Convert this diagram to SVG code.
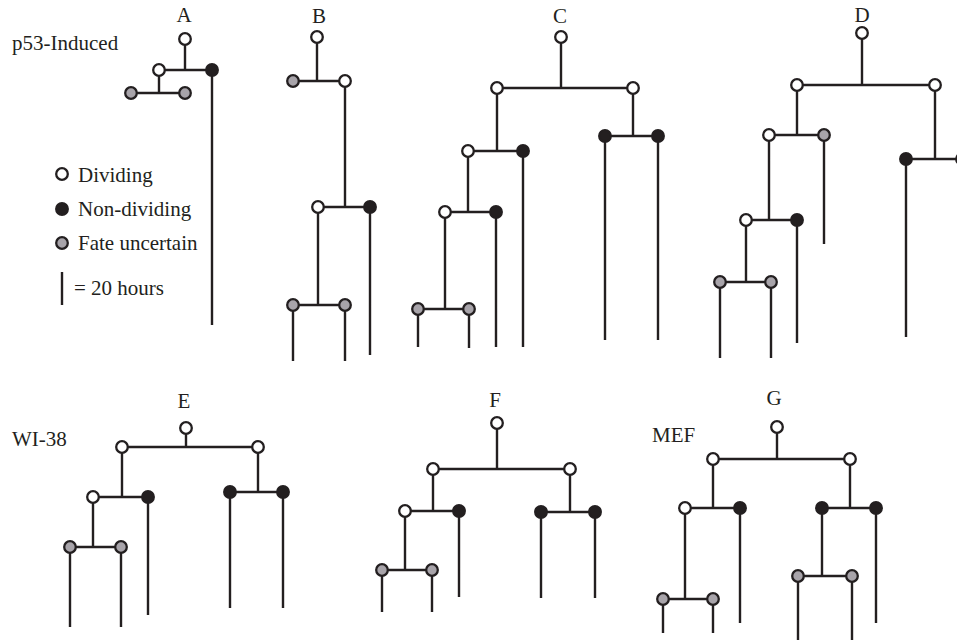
<svg xmlns="http://www.w3.org/2000/svg" width="957" height="643" viewBox="0 0 957 643">
<style>
.bg{fill:#fff}
.ln{stroke:#231f20;stroke-width:2.4;fill:none;stroke-linecap:butt}
.n circle{stroke:#231f20;stroke-width:2.3}
.w circle{fill:#fff}
.k circle{fill:#231f20}
.g circle{fill:#a8a4aa}
text{font-family:"Liberation Serif","Times New Roman",serif;font-size:21px;fill:#231f20}
.t{text-anchor:middle}
</style>
<rect class="bg" x="0" y="0" width="957" height="643"/>
<g id="labels">
<text x="12" y="50">p53-Induced</text>
<text class="t" x="184" y="22">A</text>
<text class="t" x="319" y="23">B</text>
<text class="t" x="560" y="23">C</text>
<text class="t" x="862" y="22">D</text>
<text x="12" y="446">WI-38</text>
<text class="t" x="184" y="408">E</text>
<text class="t" x="495" y="407">F</text>
<text class="t" x="774" y="405">G</text>
<text x="652" y="442">MEF</text>
</g>
<g id="legend">
<g id="leg-dividing" class="n w"><circle cx="62" cy="174" r="5.8"/><text x="78" y="182">Dividing</text></g>
<g id="leg-nondividing" class="n k"><circle cx="62" cy="209" r="5.8"/><text x="78" y="216">Non-dividing</text></g>
<g id="leg-uncertain" class="n g"><circle cx="62" cy="243" r="5.8"/><text x="78" y="250">Fate uncertain</text></g>
<g id="leg-scale"><line class="ln" x1="62" y1="272" x2="62" y2="305"/><text x="74" y="295">= 20 hours</text></g>
</g>
<g id="connectors" class="ln">
<path d="M185 39V70M159 70H212M159 70V93M131 93H185M212 70V325"/>
<path d="M317 37V81M293 81H345M345 81V207M318 207H370M318 207V305M293 305H345M293 305V361M345 305V361M370 207V355"/>
<path d="M561 37V88M497 88H633M633 88V136M605 136H658M605 136V340M658 136V340M497 88V151M468 151H523M523 151V347M468 151V212M445 212H496M496 212V347M445 212V309M418 309H469M418 309V347M469 309V348"/>
<path d="M862 33V85M797 85H935M935 85V159M906 159H962M906 159V337M797 85V135M769 135H824M824 135V244M769 135V220M746 220H797M797 220V343M746 220V282M720 282H771M720 282V358M771 282V358"/>
<path d="M186 428V447M122 447H258M258 447V492M230 492H283M230 492V608M283 492V608M122 447V497M93 497H148M148 497V615M93 497V547M70 547H121M70 547V627M121 547V627"/>
<path d="M497 423V469M433 469H570M570 469V512M541 512H595M541 512V598M595 512V598M433 469V511M405 511H459M459 511V597M405 511V570M382 570H432M382 570V612M432 570V612"/>
<path d="M777 427V459M713 459H850M850 459V508M822 508H876M876 508V623M822 508V576M798 576H852M798 576V640M852 576V640M713 459V508M685 508H740M740 508V623M685 508V599M663 599H713M663 599V633M713 599V633"/>
</g>
<g id="tree-A">
<g id="A0" class="n w"><circle cx="185" cy="39" r="5.8"/></g>
<g id="A1" class="n w"><circle cx="159" cy="70" r="5.8"/></g>
<g id="A2" class="n k"><circle cx="212" cy="70" r="5.8"/></g>
<g id="A3" class="n g"><circle cx="131" cy="93" r="5.8"/></g>
<g id="A4" class="n g"><circle cx="185" cy="93" r="5.8"/></g>
</g>
<g id="tree-B">
<g id="B0" class="n w"><circle cx="317" cy="37" r="5.8"/></g>
<g id="B1" class="n g"><circle cx="293" cy="81" r="5.8"/></g>
<g id="B2" class="n w"><circle cx="345" cy="81" r="5.8"/></g>
<g id="B3" class="n w"><circle cx="318" cy="207" r="5.8"/></g>
<g id="B4" class="n k"><circle cx="370" cy="207" r="5.8"/></g>
<g id="B5" class="n g"><circle cx="293" cy="305" r="5.8"/></g>
<g id="B6" class="n g"><circle cx="345" cy="305" r="5.8"/></g>
</g>
<g id="tree-C">
<g id="C0" class="n w"><circle cx="561" cy="37" r="5.8"/></g>
<g id="C1" class="n w"><circle cx="497" cy="88" r="5.8"/></g>
<g id="C2" class="n w"><circle cx="633" cy="88" r="5.8"/></g>
<g id="C3" class="n k"><circle cx="605" cy="136" r="5.8"/></g>
<g id="C4" class="n k"><circle cx="658" cy="136" r="5.8"/></g>
<g id="C5" class="n w"><circle cx="468" cy="151" r="5.8"/></g>
<g id="C6" class="n k"><circle cx="523" cy="151" r="5.8"/></g>
<g id="C7" class="n w"><circle cx="445" cy="212" r="5.8"/></g>
<g id="C8" class="n k"><circle cx="496" cy="212" r="5.8"/></g>
<g id="C9" class="n g"><circle cx="418" cy="309" r="5.8"/></g>
<g id="C10" class="n g"><circle cx="469" cy="309" r="5.8"/></g>
</g>
<g id="tree-D">
<g id="D0" class="n w"><circle cx="862" cy="33" r="5.8"/></g>
<g id="D1" class="n w"><circle cx="797" cy="85" r="5.8"/></g>
<g id="D2" class="n w"><circle cx="935" cy="85" r="5.8"/></g>
<g id="D3" class="n k"><circle cx="906" cy="159" r="5.8"/></g>
<g id="D4" class="n k"><circle cx="962" cy="159" r="5.8"/></g>
<g id="D5" class="n w"><circle cx="769" cy="135" r="5.8"/></g>
<g id="D6" class="n g"><circle cx="824" cy="135" r="5.8"/></g>
<g id="D7" class="n w"><circle cx="746" cy="220" r="5.8"/></g>
<g id="D8" class="n k"><circle cx="797" cy="220" r="5.8"/></g>
<g id="D9" class="n g"><circle cx="720" cy="282" r="5.8"/></g>
<g id="D10" class="n g"><circle cx="771" cy="282" r="5.8"/></g>
</g>
<g id="tree-E">
<g id="E0" class="n w"><circle cx="186" cy="428" r="5.8"/></g>
<g id="E1" class="n w"><circle cx="122" cy="447" r="5.8"/></g>
<g id="E2" class="n w"><circle cx="258" cy="447" r="5.8"/></g>
<g id="E3" class="n k"><circle cx="230" cy="492" r="5.8"/></g>
<g id="E4" class="n k"><circle cx="283" cy="492" r="5.8"/></g>
<g id="E5" class="n w"><circle cx="93" cy="497" r="5.8"/></g>
<g id="E6" class="n k"><circle cx="148" cy="497" r="5.8"/></g>
<g id="E7" class="n g"><circle cx="70" cy="547" r="5.8"/></g>
<g id="E8" class="n g"><circle cx="121" cy="547" r="5.8"/></g>
</g>
<g id="tree-F">
<g id="F0" class="n w"><circle cx="497" cy="423" r="5.8"/></g>
<g id="F1" class="n w"><circle cx="433" cy="469" r="5.8"/></g>
<g id="F2" class="n w"><circle cx="570" cy="469" r="5.8"/></g>
<g id="F3" class="n k"><circle cx="541" cy="512" r="5.8"/></g>
<g id="F4" class="n k"><circle cx="595" cy="512" r="5.8"/></g>
<g id="F5" class="n w"><circle cx="405" cy="511" r="5.8"/></g>
<g id="F6" class="n k"><circle cx="459" cy="511" r="5.8"/></g>
<g id="F7" class="n g"><circle cx="382" cy="570" r="5.8"/></g>
<g id="F8" class="n g"><circle cx="432" cy="570" r="5.8"/></g>
</g>
<g id="tree-G">
<g id="G0" class="n w"><circle cx="777" cy="427" r="5.8"/></g>
<g id="G1" class="n w"><circle cx="713" cy="459" r="5.8"/></g>
<g id="G2" class="n w"><circle cx="850" cy="459" r="5.8"/></g>
<g id="G3" class="n k"><circle cx="822" cy="508" r="5.8"/></g>
<g id="G4" class="n k"><circle cx="876" cy="508" r="5.8"/></g>
<g id="G5" class="n w"><circle cx="685" cy="508" r="5.8"/></g>
<g id="G6" class="n k"><circle cx="740" cy="508" r="5.8"/></g>
<g id="G7" class="n g"><circle cx="663" cy="599" r="5.8"/></g>
<g id="G8" class="n g"><circle cx="713" cy="599" r="5.8"/></g>
<g id="G9" class="n g"><circle cx="798" cy="576" r="5.8"/></g>
<g id="G10" class="n g"><circle cx="852" cy="576" r="5.8"/></g>
</g>
</svg>
